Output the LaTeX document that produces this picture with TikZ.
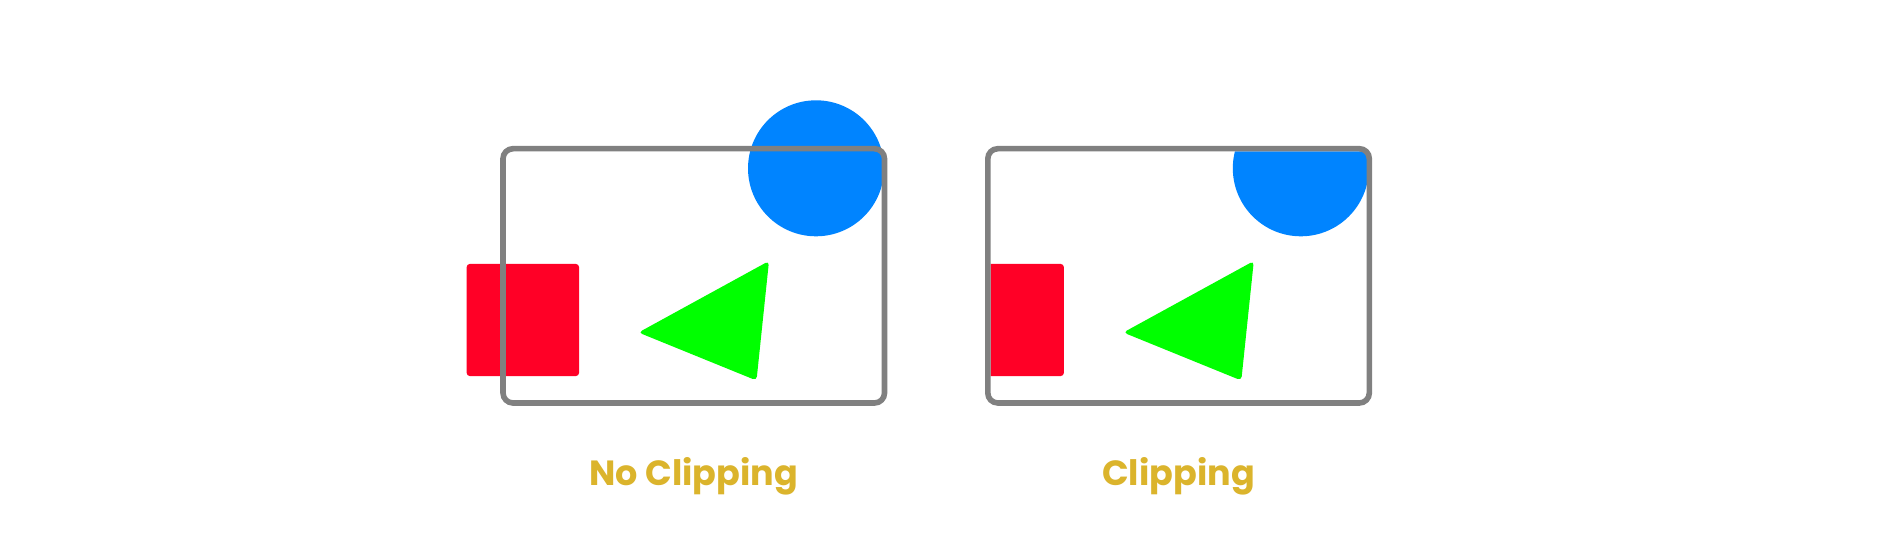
\documentclass[tikz,border=0pt]{standalone}
\usepackage{fontspec}
\setmainfont{Poppins}
\definecolor{frame}{HTML}{808080}
\definecolor{blueC}{HTML}{0084FF}
\definecolor{redC}{HTML}{FF0026}
\definecolor{greenC}{HTML}{00FF00}
\definecolor{labelC}{HTML}{DBB42C}
\tikzset{
  framebox/.style={draw=frame, line width=5.6pt, rounded corners=10pt},
  bluedisc/.style={fill=blueC},
  redsq/.style={fill=redC, rounded corners=3pt},
  greentri/.style={fill=greenC, rounded corners=4pt},
  caption/.style={anchor=base, text=labelC, font=\fontsize{35}{42}\selectfont\bfseries, inner sep=0pt}
}
\begin{document}
\begin{tikzpicture}[x=1pt, y=-1pt]
\fill[white] (0,0) rectangle (1878,545);
\useasboundingbox (0,0) rectangle (1878,545);
% ---------- left panel: no clipping ----------
\fill[bluedisc] (816,168.3) circle[radius=68pt];
\fill[redsq] (466.7,264) rectangle (579,376);
\fill[greentri] (638.5,332.5) -- (769,261) -- (756.5,380.5) -- cycle;
\draw[framebox] (503,148.7) rectangle (884.5,403);
\node[caption] (lblA) at (693.75,485) {No Clipping};
% ---------- right panel: clipping ----------
\begin{scope}
\clip[rounded corners=7pt] (990.6,151.5) rectangle (1367.2,400.2);
\fill[bluedisc] (1300.8,168.3) circle[radius=68pt];
\fill[redsq] (951.5,264) rectangle (1063.8,376);
\fill[greentri] (1123.3,332.5) -- (1253.8,261) -- (1241.3,380.5) -- cycle;
\end{scope}
\draw[framebox] (987.8,148.7) rectangle (1369.3,403);
\node[caption] (lblB) at (1178.5,485) {Clipping};
\end{tikzpicture}
\end{document}
